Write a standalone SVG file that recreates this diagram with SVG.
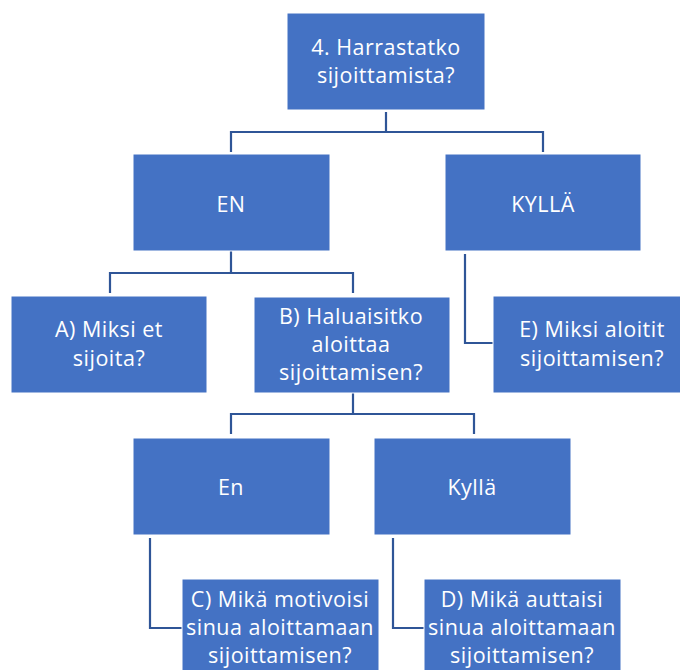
<svg xmlns="http://www.w3.org/2000/svg" width="680" height="670" viewBox="0 0 680 670">
<style>
.box{fill:#4472C4;stroke:#FFFFFF;stroke-width:1}
.t{font-family:"Open Sans","Liberation Sans",sans-serif;font-size:21.5px;letter-spacing:0.5px;fill:#FFFFFF;text-anchor:middle}
.c{fill:none;stroke:#2F5597;stroke-width:2.2}
</style>
<rect width="680" height="670" fill="#FFFFFF"/>
<g id="connectors">
<path class="c" d="M386,112 V132 M231,152 V132 H543 V152"/>
<path class="c" d="M231,251 V273 M110,293 V273 H353 V293"/>
<path class="c" d="M465,254 V343 H493"/>
<path class="c" d="M353,393 V414 M231,434 V414 H474 V434"/>
<path class="c" d="M150,538 V628 H182"/>
<path class="c" d="M393,538 V628 H424"/>
</g>
<g id="n_root"><rect class="box" x="287" y="13" width="198" height="97"/><text class="t" x="386" y="55">4. Harrastatko</text><text class="t" x="386" y="83">sijoittamista?</text></g>
<g id="n_en"><rect class="box" x="133" y="154" width="197" height="97"/><text class="t" x="231" y="212">EN</text></g>
<g id="n_kylla"><rect class="box" x="445" y="154" width="196" height="97"/><text class="t" x="543" y="212">KYLLÄ</text></g>
<g id="n_a"><rect class="box" x="11" y="296" width="196" height="97"/><text class="t" x="109" y="337">A) Miksi et</text><text class="t" x="109" y="366">sijoita?</text></g>
<g id="n_b"><rect class="box" x="254" y="297" width="196" height="96"/><text class="t" x="351" y="324">B) Haluaisitko</text><text class="t" x="351" y="352">aloittaa</text><text class="t" x="351" y="380">sijoittamisen?</text></g>
<g id="n_e"><rect class="box" x="493" y="296" width="198" height="97"/><text class="t" x="592" y="337">E) Miksi aloitit</text><text class="t" x="592" y="366">sijoittamisen?</text></g>
<g id="n_en2"><rect class="box" x="133" y="438" width="197" height="97"/><text class="t" x="231" y="495">En</text></g>
<g id="n_kylla2"><rect class="box" x="374" y="438" width="197" height="97"/><text class="t" x="472" y="495">Kyllä</text></g>
<g id="n_c"><rect class="box" x="182" y="579" width="197" height="97"/><text class="t" x="280" y="607">C) Mikä motivoisi</text><text class="t" x="280" y="635">sinua aloittamaan</text><text class="t" x="280" y="663">sijoittamisen?</text></g>
<g id="n_d"><rect class="box" x="424" y="579" width="197" height="97"/><text class="t" x="522" y="607">D) Mikä auttaisi</text><text class="t" x="522" y="635">sinua aloittamaan</text><text class="t" x="522" y="663">sijoittamisen?</text></g>
</svg>
